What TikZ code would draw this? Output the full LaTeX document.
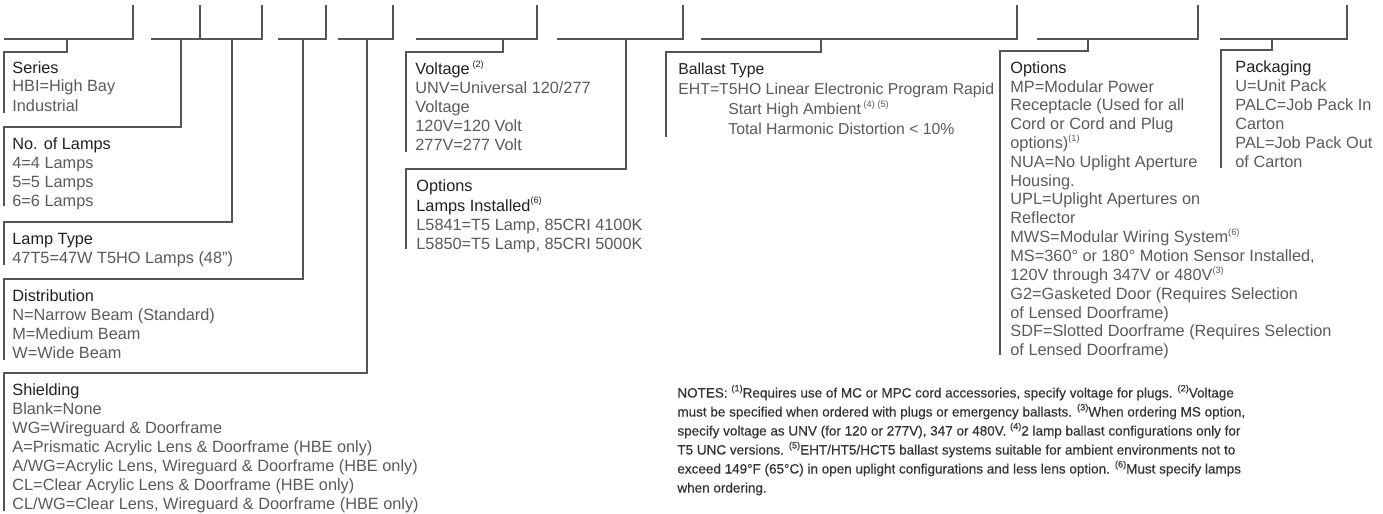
\documentclass[tikz,border=0pt]{standalone}
\usepackage{fontspec}
\setmainfont{Liberation Sans}
\newfontfamily\notefont[FakeBold=0.35]{Liberation Sans}
\definecolor{lnc}{HTML}{555555}
\definecolor{hdc}{HTML}{231F20}
\definecolor{bdc}{HTML}{5A5A5A}
\definecolor{ntc}{HTML}{333333}
\newcommand\nsup[1]{\raisebox{0.85ex}{\fontsize{4.6}{5}\selectfont(#1)}}
\newcommand\hdg[1]{\textcolor{hdc}{#1}}
\newcommand\blines[1]{\begin{tabular}[t]{@{}l@{}}#1\end{tabular}}
\tikzset{
  ln/.style={draw=lnc, line width=0.75pt},
  txt/.style={anchor=base west, inner sep=0pt, text=bdc, font=\fontsize{8.15}{9.5}\selectfont},
  notetxt/.style={anchor=base west, inner sep=0pt, text=ntc, font=\notefont\fontsize{6.75}{9.5}\selectfont},
}
\begin{document}
\begin{tikzpicture}[x=0.5pt,y=-0.5pt]
\useasboundingbox (0,0) rectangle (1383,514);
% code boxes (blank fields)
\foreach \xs/\xe/\nm in {4/133/s1,151/262/s2,278/326/s3,338/393/s4,416/537/s5,557/683/s6,701/1017/s7,1037/1198/s8,1220/1347/s9}{
  \coordinate (\nm a) at (\xs,39);
  \coordinate (\nm b) at (\xe,39);
  \coordinate (\nm t) at (\xe,5);
  \draw[ln] (\nm a) -- (\nm b) -- (\nm t);
}
\coordinate (s2m) at (200,39);
\coordinate (s2mt) at (200,5);
\draw[ln] (s2m) -- (s2mt);
% drop points on the fields
\coordinate (d1) at (67,39);
\coordinate (d2) at (181,39);
\coordinate (d3) at (232,39);
\coordinate (d4) at (303,39);
\coordinate (d5) at (367,39);
\coordinate (d6) at (503,39);
\coordinate (d7) at (626,39);
\coordinate (d8) at (821,39);
\coordinate (d9) at (1088,39);
\coordinate (d10) at (1272,39);
% box corners and ends
\coordinate (k1) at (4,52);    \coordinate (e1) at (4,113);
\coordinate (k2) at (4,127);   \coordinate (e2) at (4,206);
\coordinate (k3) at (4,222);   \coordinate (e3) at (4,265);
\coordinate (k4) at (4,279);   \coordinate (e4) at (4,360);
\coordinate (k5) at (4,373);   \coordinate (e5) at (4,511);
\coordinate (k6) at (406,52);  \coordinate (e6) at (406,152);
\coordinate (k7) at (406,169); \coordinate (e7) at (406,249);
\coordinate (k8) at (666,52);  \coordinate (e8) at (666,137);
\coordinate (k9) at (1000,51); \coordinate (e9) at (1000,355);
\coordinate (k10) at (1221,50);\coordinate (e10) at (1221,168);
\foreach \i in {1,...,10}{
  \draw[ln] (d\i) |- (k\i) -- (e\i);
}
% descriptions
\node[txt] (series) at (12,73) {\blines{\hdg{Series}\\HBI=High Bay\\Industrial}};
\node[txt] (lamps) at (12,149.5) {\blines{\hdg{No. of Lamps}\\4=4 Lamps\\5=5 Lamps\\6=6 Lamps}};
\node[txt] (lamptype) at (12,244.5) {\blines{\hdg{Lamp Type}\\47T5=47W T5HO Lamps (48”)}};
\node[txt] (distr) at (12,301.5) {\blines{\hdg{Distribution}\\N=Narrow Beam (Standard)\\M=Medium Beam\\W=Wide Beam}};
\node[txt] (shield) at (12,395.5) {\blines{\hdg{Shielding}\\Blank=None\\WG=Wireguard \& Doorframe\\A=Prismatic Acrylic Lens \& Doorframe (HBE only)\\A/WG=Acrylic Lens, Wireguard \& Doorframe (HBE only)\\CL=Clear Acrylic Lens \& Doorframe (HBE only)\\CL/WG=Clear Lens, Wireguard \& Doorframe (HBE only)}};
\node[txt] (volt) at (415,74.5) {\blines{\hdg{Voltage\,\nsup{2}}\\UNV=Universal 120/277\\Voltage\\120V=120 Volt\\277V=277 Volt}};
\node[txt] (optlamps) at (416,191.5) {\blines{\hdg{Options}\\\hdg{Lamps Installed\nsup{6}}\\L5841=T5 Lamp, 85CRI 4100K\\L5850=T5 Lamp, 85CRI 5000K}};
\node[txt, font=\fontsize{7.9}{10}\selectfont] (ballast) at (678,74.5) {\blines{\hdg{Ballast Type}\\EHT=T5HO Linear Electronic Program Rapid\\\hspace*{25pt}Start High Ambient\,\nsup{4}\,\nsup{5}\\\hspace*{25pt}Total Harmonic Distortion < 10\%}};
\node[txt, font=\fontsize{8.15}{9.3}\selectfont] (options) at (1010,73.5) {\blines{\hdg{Options}\\MP=Modular Power\\Receptacle (Used for all\\Cord or Cord and Plug\\options)\nsup{1}\\NUA=No Uplight Aperture\\Housing.\\UPL=Uplight Apertures on\\Reflector\\MWS=Modular Wiring System\nsup{6}\\MS=360° or 180° Motion Sensor Installed,\\120V through 347V or 480V\nsup{3}\\G2=Gasketed Door (Requires Selection\\of Lensed Doorframe)\\SDF=Slotted Doorframe (Requires Selection\\of Lensed Doorframe)}};
\node[txt] (pack) at (1235,72.5) {\blines{\hdg{Packaging}\\U=Unit Pack\\PALC=Job Pack In\\Carton\\PAL=Job Pack Out\\of Carton}};
\node[notetxt] (notes) at (677,397.5) {\blines{NOTES: \nsup{1}Requires use of MC or MPC cord accessories, specify voltage for plugs. \nsup{2}Voltage\\must be specified when ordered with plugs or emergency ballasts. \nsup{3}When ordering MS option,\\specify voltage as UNV (for 120 or 277V), 347 or 480V. \nsup{4}2 lamp ballast configurations only for\\T5 UNC versions. \nsup{5}EHT/HT5/HCT5 ballast systems suitable for ambient environments not to\\exceed 149°F (65°C) in open uplight configurations and less lens option. \nsup{6}Must specify lamps\\when ordering.}};
\end{tikzpicture}
\end{document}
